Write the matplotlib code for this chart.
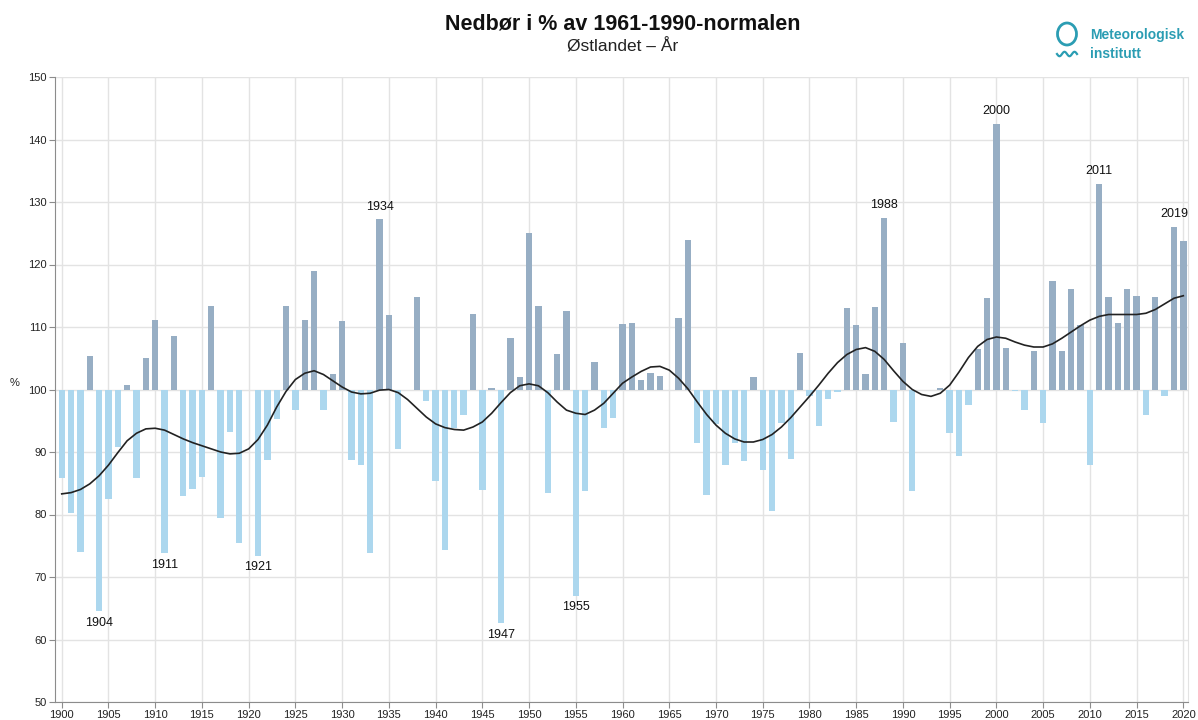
import numpy as np
import matplotlib
matplotlib.use("Agg")
import matplotlib.pyplot as plt
from matplotlib.patches import Ellipse

plt.rcParams['font.family'] = ['Liberation Sans', 'DejaVu Sans']

years = list(range(1900, 2021))

precip = [
    85.8, 80.2, 74.0, 105.4, 64.5, 82.5, 90.8, 100.7, 85.8, 105.1,
    111.2, 73.8, 108.6, 82.9, 84.1, 86.0, 113.4, 79.4, 93.2, 75.4,
    99.9, 73.4, 88.8, 95.3, 113.3, 96.8, 111.1, 119.0, 96.8, 102.5,
    110.9, 88.7, 87.9, 73.9, 127.2, 111.9, 90.4, 100.0, 114.8, 98.2,
    85.4, 74.4, 93.8, 96.0, 112.1, 83.9, 100.3, 62.6, 108.3, 102.0,
    125.0, 113.4, 83.5, 105.7, 112.6, 67.0, 83.8, 104.4, 93.9, 95.5,
    110.5, 110.7, 101.6, 102.6, 102.2, 100.0, 111.5, 123.9, 91.5, 83.2,
    94.5, 87.9, 91.5, 88.5, 102.0, 87.2, 80.6, 94.7, 88.9, 105.8,
    98.9, 94.1, 98.4, 99.6, 113.0, 110.4, 102.4, 113.2, 127.5, 94.8,
    107.4, 83.7, 100.0, 100.0, 100.3, 93.0, 89.4, 97.6, 106.5, 114.6,
    142.5, 106.7, 99.8, 96.7, 106.1, 94.7, 117.3, 106.2, 116.1, 110.3,
    87.9, 132.9, 114.8, 110.7, 116.1, 115.0, 96.0, 114.8, 98.9, 126.0,
    123.7,
]

smooth = [
    83.3, 83.5, 84.0, 84.9, 86.2, 87.9, 89.9, 91.8, 93.0, 93.7,
    93.8, 93.5, 92.8, 92.1, 91.5, 91.0, 90.5, 90.0, 89.7, 89.8,
    90.5, 92.0, 94.3, 97.2, 99.7, 101.6, 102.6, 103.0, 102.4, 101.4,
    100.4, 99.6, 99.3, 99.4, 99.9, 100.0, 99.5, 98.4, 97.0, 95.6,
    94.5, 93.9, 93.6, 93.5, 94.0, 94.8, 96.2, 97.9, 99.5, 100.6,
    100.9, 100.6, 99.5, 98.0, 96.7, 96.2, 96.0, 96.7, 97.8, 99.4,
    101.0, 102.0, 102.9, 103.6, 103.7, 103.1, 101.8, 100.1, 98.0, 96.0,
    94.3, 93.0, 92.1, 91.6, 91.6, 92.0, 92.8, 94.0, 95.5, 97.2,
    98.9, 100.7, 102.6, 104.3, 105.6, 106.4, 106.7, 106.1, 104.8, 103.0,
    101.3, 100.0, 99.2, 98.9, 99.4, 100.7, 102.8, 105.1, 106.9, 108.0,
    108.4, 108.2, 107.6, 107.1, 106.8, 106.8, 107.3, 108.2, 109.2, 110.2,
    111.1, 111.7, 112.0, 112.0, 112.0, 112.0, 112.2, 112.8, 113.7, 114.6,
    115.0,
]

high_labels = [1934, 1988, 2000, 2011, 2019]
low_labels = [1904, 1911, 1921, 1947, 1955]

title = "Nedbør i % av 1961-1990-normalen"
subtitle = "Østlandet – År"
xticks = list(range(1900, 2021, 5))
yticks = list(range(50, 151, 10))

POS = "#97aec4"
NEG = "#acd7ee"

W, H = 1198, 720
fig = plt.figure(figsize=(W / 100, H / 100), dpi=100)
ax = fig.add_axes([55 / W, 1 - 702 / H, (1188 - 55) / W, (702 - 77) / H])

yrs = np.array(years)
vals = np.array(precip)
colors = [POS if v >= 100 else NEG for v in vals]
ax.bar(yrs, vals - 100, bottom=100, width=0.68, color=colors, zorder=2)
ax.plot(yrs, smooth, color="#222222", lw=1.2, zorder=3)

ax.set_xlim(1899.28, 2020.5)
ax.set_ylim(50, 150)
ax.set_xticks(xticks)
ax.set_yticks(yticks)
ax.grid(True, color="#e3e3e3", lw=1.0, zorder=0)
ax.set_axisbelow(True)
ax.spines["top"].set_visible(False)
ax.spines["right"].set_color("#e3e3e3")
ax.spines["left"].set_color("#8c8c8c")
ax.spines["bottom"].set_color("#8c8c8c")
ax.tick_params(axis="both", colors="#8c8c8c", labelcolor="#222222", labelsize=8, length=4, width=0.8, pad=2)

lookup = dict(zip(years, precip))
for y in high_labels:
    ax.annotate(str(y), (y, lookup[y]), xytext=(0, 5), textcoords="offset points",
                ha="center", va="bottom", fontsize=9, color="#111111")
for y in low_labels:
    ax.annotate(str(y), (y, lookup[y]), xytext=(0, -4), textcoords="offset points",
                ha="center", va="top", fontsize=9, color="#111111")

fig.text(15 / W, 1 - 383 / H, "%", ha="center", va="center", fontsize=8, color="#222222")
fig.text(623 / W, 1 - 24 / H, title, ha="center", va="center", fontsize=15.5, fontweight="bold", color="#111111")
fig.text(623 / W, 1 - 47 / H, subtitle, ha="center", va="center", fontsize=12.5, color="#222222")

# logo overlay in pixel coordinates
lo = fig.add_axes([0, 0, 1, 1], facecolor="none")
lo.set_xlim(0, W)
lo.set_ylim(H, 0)
lo.axis("off")
teal = "#2b9db3"
lo.add_patch(Ellipse((1067, 34), 19, 22, fill=False, ec=teal, lw=2))
wx = np.linspace(1057, 1077, 60)
lo.plot(wx, 54 + 2.2 * np.sin((wx - 1057) / 20 * 4 * np.pi), color=teal, lw=1.6)
lo.text(1090, 35, "Meteorologisk", color=teal, fontsize=10, fontweight="bold", va="center", ha="left")
lo.text(1090, 54, "institutt", color=teal, fontsize=10, fontweight="bold", va="center", ha="left")

fig.savefig("out.png", dpi=100, facecolor="white")
